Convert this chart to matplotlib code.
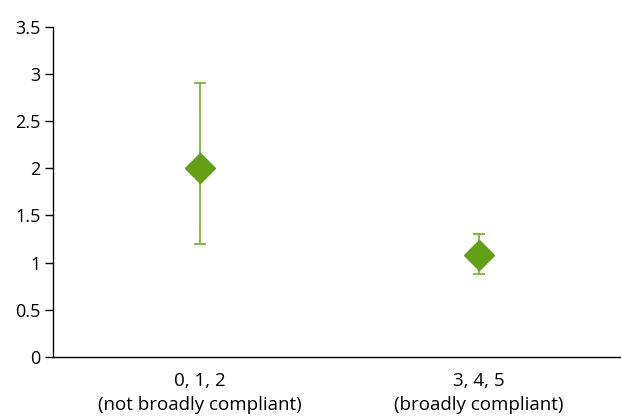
import matplotlib
matplotlib.use('Agg')
from matplotlib import pyplot as plt

categories = ['0, 1, 2\n(not broadly compliant)', '3, 4, 5\n(broadly compliant)']
means = [2.0, 1.08]
lower = [1.2, 0.88]
upper = [2.9, 1.3]

err_lo = [m - l for m, l in zip(means, lower)]
err_hi = [u - m for m, u in zip(means, upper)]

plt.rcParams['font.family'] = ['Open Sans', 'DejaVu Sans']

fig = plt.figure(figsize=(6.21, 4.19), dpi=100)
ax = fig.add_axes([0.0853, 0.148, 0.913, 0.788])

x = list(range(len(categories)))
ax.errorbar(x, means, yerr=[err_lo, err_hi], fmt='none', ecolor='#7cb82f',
            elinewidth=1.3, capsize=4, capthick=1.3, zorder=2)
ax.plot(x, means, 'D', color='#62a014', markersize=15, linestyle='none', zorder=3)

ax.set_xlim(-0.527, 1.505)
ax.set_ylim(0, 3.5)
ax.set_yticks([0, 0.5, 1, 1.5, 2, 2.5, 3, 3.5])
ax.set_yticklabels(['0', '0.5', '1', '1.5', '2', '2.5', '3', '3.5'])
ax.set_xticks(x)
ax.set_xticklabels(categories, linespacing=1.4, fontsize=13.5)
ax.tick_params(axis='x', length=0, pad=11)
ax.tick_params(axis='y', length=6, width=1, labelsize=13, pad=3)
for s in ['top', 'right']:
    ax.spines[s].set_visible(False)
ax.spines['left'].set_linewidth(1)
ax.spines['bottom'].set_linewidth(1)

fig.savefig('out.png', dpi=100)
